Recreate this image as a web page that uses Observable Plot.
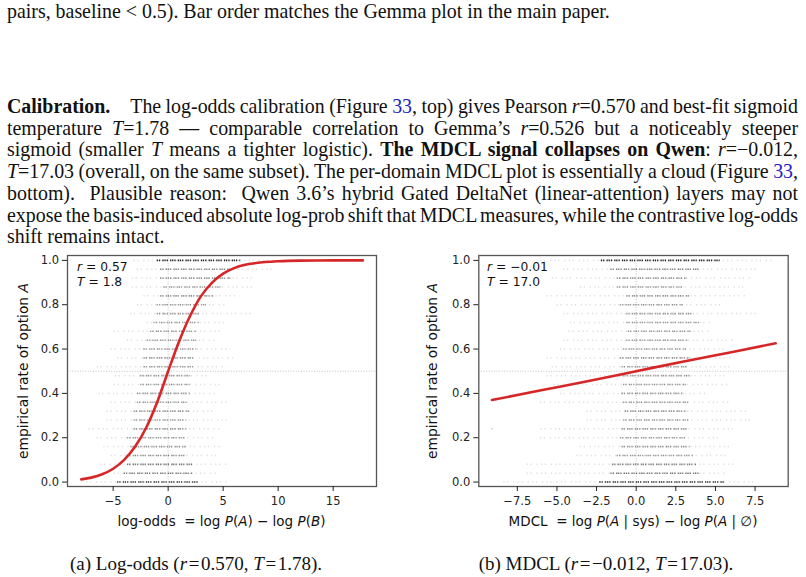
<!DOCTYPE html>
<html><head><meta charset="utf-8">
<script src="https://cdn.jsdelivr.net/npm/d3@7"></script>
<script src="https://cdn.jsdelivr.net/npm/@observablehq/plot@0.6"></script>
<style>
body{margin:0;background:#fff;}
#page{position:relative;width:806px;height:577px;overflow:hidden;font-family:"Liberation Serif","Times New Roman",serif;color:#111;}
.ln{position:absolute;left:7px;width:791px;font-size:19.9px;line-height:21.7px;}
.j{text-align:justify;text-align-last:justify;word-spacing:-2.5px;}
.ln a{color:#2323c0;text-decoration:none}
.lab{position:absolute;font-family:"DejaVu Sans",sans-serif;color:#111;white-space:nowrap;line-height:1;}
.cap{position:absolute;font-size:19px;white-space:nowrap;transform:translate(-50%,-50%);line-height:1;}
.svgbox{position:absolute;}
</style></head>
<body>
<div id="page">
  <div class="ln" style="top:1px">pairs, baseline &lt; 0.5). Bar order matches the Gemma plot in the main paper.</div>
  <div class="ln j" style="top:96px"><b>Calibration.</b>&emsp;The log-odds calibration (Figure <a>33</a>, top) gives Pearson <i>r</i>=0.570 and best-fit sigmoid</div>
  <div class="ln j" style="top:117.7px">temperature <i>T</i>=1.78 — comparable correlation to Gemma’s <i>r</i>=0.526 but a noticeably steeper</div>
  <div class="ln j" style="top:139.4px">sigmoid (smaller <i>T</i> means a tighter logistic). <b>The MDCL signal collapses on Qwen</b>: <i>r</i>=−0.012,</div>
  <div class="ln j" style="top:161.1px"><i>T</i>=17.03 (overall, on the same subset). The per-domain MDCL plot is essentially a cloud (Figure <a>33</a>,</div>
  <div class="ln j" style="top:182.8px">bottom). &nbsp;Plausible reason: &nbsp;Qwen 3.6’s hybrid Gated DeltaNet (linear-attention) layers may not</div>
  <div class="ln j" style="top:204.5px">expose the basis-induced absolute log-prob shift that MDCL measures, while the contrastive log-odds</div>
  <div class="ln" style="top:226.2px">shift remains intact.</div>

  <div id="left" class="svgbox" style="left:0;top:245px"></div>
  <div id="right" class="svgbox" style="left:400px;top:245px"></div>

  <div class="lab" style="left:77px;top:260px;font-size:12.3px;line-height:15px"><i>r</i> = 0.57<br><i>T</i> = 1.8</div>
  <div class="lab" style="left:487px;top:260px;font-size:12.3px;line-height:15px"><i>r</i> = −0.01<br><i>T</i> = 17.0</div>

  <div class="lab" style="left:221.5px;top:522px;font-size:13.5px;transform:translate(-50%,-50%)">log-odds&nbsp; = log <i>P</i>(<i>A</i>) − log <i>P</i>(<i>B</i>)</div>
  <div class="lab" style="left:633px;top:522px;font-size:13.5px;transform:translate(-50%,-50%)">MDCL&nbsp; = log <i>P</i>(<i>A</i> | sys) − log <i>P</i>(<i>A</i> | ∅)</div>

  <div class="lab" style="left:24px;top:371px;font-size:13.8px;transform:translate(-50%,-50%) rotate(-90deg)">empirical rate of option <i>A</i></div>
  <div class="lab" style="left:433px;top:371px;font-size:13.8px;transform:translate(-50%,-50%) rotate(-90deg)">empirical rate of option <i>A</i></div>

  <div class="cap" style="left:196px;top:563px">(a) Log-odds (<i>r</i>&#8202;=&#8202;0.570, <i>T</i>&#8202;=&#8202;1.78).</div>
  <div class="cap" style="left:606px;top:563px">(b) MDCL (<i>r</i>&#8202;=&#8202;−0.012, <i>T</i>&#8202;=&#8202;17.03).</div>
</div>
<script>
// ---- data ----
const levels = [0.00,0.04,0.08,0.12,0.16,0.20,0.24,0.28,0.32,0.36,0.40,0.44,0.48,0.52,0.56,0.60,0.64,0.68,0.72,0.76,0.80,0.84,0.88,0.92,0.96,1.00];

// log-odds panel: per-row extent of scattered points, dense core, and relative density
const loMin  = [-7.4,-4.9,-6.15,-5.2,-5.85,-6.45,-7.2,-5.55,-5.55,-5.2,-6.3,-4.9,-4.8,-6.45,-4.6,-5.2,-3.7,-4.9,-1.9,-3.4,-2.8,-2.2,-3.27,-3.27,-2.8,-3.1];
const loMax  = [5.36,4.45,5.36,4.75,4.9,4.15,4.9,5.36,4.15,5.36,4.45,4.75,3.5,5.36,6.0,5.66,4.45,4.75,5.4,7.6,5.4,6.6,7.8,8.1,9.6,13.8];
const loCoreLo = [-4.6,-4.0,-3.7,-3.7,-3.4,-3.7,-3.1,-3.1,-3.1,-2.8,-2.8,-2.5,-2.5,-2.2,-2.2,-2.2,-1.9,-1.6,-1.3,-1.0,-1.0,-0.7,-0.4,-0.7,-0.7,-1.0];
const loCoreHi = [2.9,2.3,2.3,1.7,1.7,1.7,1.7,1.7,2.0,1.7,2.0,2.0,2.0,2.3,2.3,2.6,2.6,2.6,2.9,2.9,3.5,4.2,4.8,5.7,6.0,6.6];
const loDensity = [0.9,0.6,0.6,0.5,0.45,0.45,0.45,0.45,0.45,0.45,0.45,0.45,0.45,0.45,0.45,0.45,0.45,0.45,0.45,0.45,0.45,0.45,0.45,0.45,0.55,1.0];
const loCurveX = [-7.9,-7,-6,-5,-4,-3,-2,-1,0,1,2,3,4,5,6,7,8,10,12,15,17.7];
const loCurveY = [0.012,0.02,0.035,0.06,0.10,0.16,0.245,0.36,0.5,0.635,0.75,0.84,0.9,0.94,0.965,0.98,0.988,0.996,0.999,1.0,1.0];

// MDCL panel
const mdMin  = [-8.35,-6.88,-6.88,-3.73,-3.52,-6.04,-6.0,-3.1,-3.1,-6.04,-4.78,-5.2,-5.62,-5.3,-5.62,-4.78,-4.57,-4.25,-4.15,-4.57,-4.99,-5.62,-3.52,-5.3,-4.57,-6.04];
const mdMax  = [7.63,5.74,6.16,5.74,6.16,5.32,6.16,7.21,7.0,5.95,4.48,5.95,5.74,6.16,6.16,5.74,6.16,4.69,4.9,7.84,5.32,7.0,7.0,7.21,7.84,8.68];
const mdCoreLo = [-2.3,-1.6,-1.5,-1.2,-0.9,-1.0,-0.9,-0.8,-0.7,-0.8,-0.9,-0.8,-1.2,-0.9,-1.0,-0.8,-0.6,-0.5,-0.6,-0.6,-1.0,-0.6,-1.2,-1.2,-1.6,-2.2];
const mdCoreHi = [5.6,4.0,3.8,3.6,3.4,3.2,3.3,3.4,3.2,3.3,3.0,3.2,3.5,3.3,3.4,3.2,3.3,3.5,4.0,3.6,3.0,3.4,3.0,3.2,4.0,5.3];
const mdDensity = [0.95,0.6,0.55,0.45,0.45,0.45,0.45,0.45,0.45,0.45,0.45,0.45,0.45,0.45,0.45,0.45,0.45,0.45,0.45,0.45,0.45,0.45,0.45,0.45,0.55,1.0];
const mdOutX = [-9.09];
const mdOutY = [0.24];
const mdCurveX = [-9.1,-6,-3,0,3,6,8.8];
const mdCurveY = [0.37,0.414,0.456,0.5,0.544,0.586,0.626];

const yTicks = [0,0.2,0.4,0.6,0.8,1.0];
const loTicks = [-5,0,5,10,15];
const mdTicks = [-7.5,-5,-2.5,0,2.5,5,7.5];

function rowsOf(mn, mx, clo, chi, dens){
  return levels.map((y,i)=>({y, min:mn[i], max:mx[i], lo:clo[i], hi:chi[i], d:dens[i]}));
}

function panel({rows, curve, outliers, xDomain, xTicks, xFmt, w, mL, mR}){
  return Plot.plot({
    width: w, height: 300,
    marginLeft: mL, marginRight: mR, marginTop: 10, marginBottom: 59,
    x: {domain: xDomain},
    y: {domain: [-0.02, 1.022]},
    opacity: {domain:[0,1], range:[0,0.6]},
    style: {fontFamily: "DejaVu Sans, sans-serif", fontSize: "11.5px", color: "#222", background: "transparent", overflow: "visible"},
    marks: [
      Plot.ruleY([0.5], {stroke:"#aaa", strokeWidth:0.7, strokeDasharray:"1,1.6"}),
      Plot.ruleX([0], {stroke:"#aaa", strokeWidth:0.7, strokeDasharray:"1,1.6"}),
      Plot.ruleY(rows, {y:"y", x1:"min", x2:"max", stroke:"#333", strokeOpacity:0.17, strokeWidth:1.5, strokeDasharray:"1.2,2.6,1.2,4.8,1.2,3.4"}),
      Plot.ruleY(rows, {y:"y", x1:"lo", x2:"hi", stroke:"#222", strokeOpacity:"d", strokeWidth:1.6, strokeDasharray:"1.3,1.0,1.3,2.1,1.3,0.7"}),
      Plot.dot(outliers, {x:"x", y:"y", r:0.8, fill:"#333", fillOpacity:0.3, stroke:null}),
      Plot.line(curve, {x:"x", y:"y", stroke:"#d62728", strokeWidth:2.6, curve:"monotone-x"}),
      Plot.frame({stroke:"#555", strokeWidth:1.3}),
      Plot.axisX({ticks:xTicks, tickFormat:xFmt, tickSize:5, tickPadding:5.5, label:null}),
      Plot.axisY({ticks:yTicks, tickFormat:d3.format(".1f"), tickSize:5, tickPadding:3.5, label:null})
    ]
  });
}

const left = panel({
  rows: rowsOf(loMin, loMax, loCoreLo, loCoreHi, loDensity),
  curve: loCurveX.map((x,i)=>({x, y:loCurveY[i]})),
  outliers: [],
  xDomain: [-9.15, 18.94], xTicks: loTicks, xFmt: d3.format(".0f"),
  w: 400, mL: 67, mR: 24
});
const right = panel({
  rows: rowsOf(mdMin, mdMax, mdCoreLo, mdCoreHi, mdDensity),
  curve: mdCurveX.map((x,i)=>({x, y:mdCurveY[i]})),
  outliers: mdOutX.map((x,i)=>({x, y:mdOutY[i]})),
  xDomain: [-9.93, 9.59], xTicks: mdTicks, xFmt: d3.format(".1f"),
  w: 406, mL: 78.3, mR: 18.3
});
document.getElementById("left").appendChild(left);
document.getElementById("right").appendChild(right);
</script>
</body></html>
